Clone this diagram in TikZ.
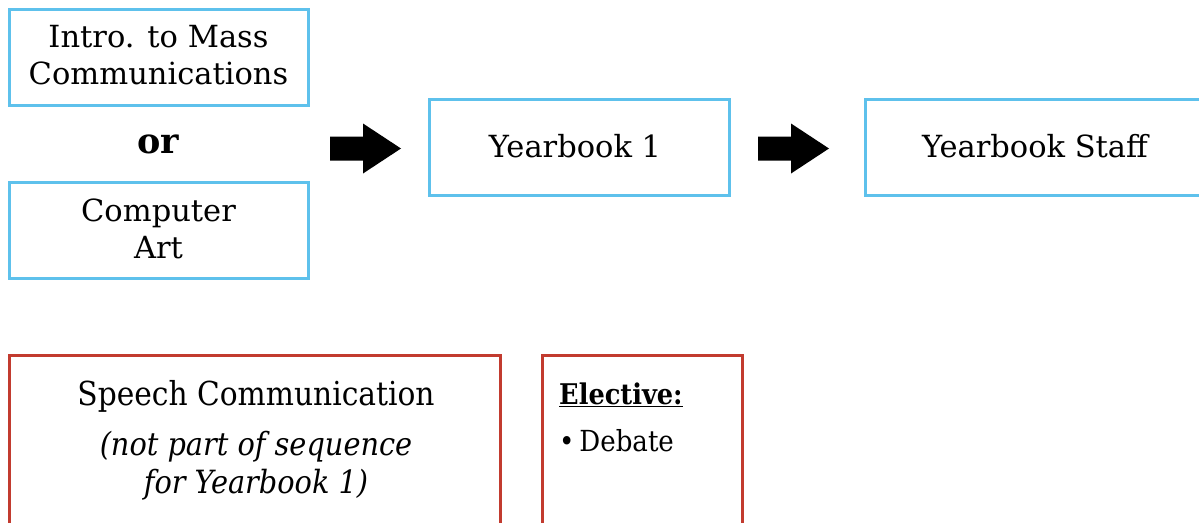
\documentclass[tikz,border=0pt]{standalone}
\usepackage{fontspec}
\setmainfont{DejaVu Serif}
\newfontfamily\condfont{DejaVu Serif Condensed}
\usetikzlibrary{positioning}
\definecolor{seqblue}{HTML}{5EC1EC}
\definecolor{seqred}{HTML}{C23B2F}
\tikzset{
  course/.style={draw=seqblue, line width=3pt, inner sep=0pt, align=center,
    minimum width=299pt, minimum height=96pt, font=\fontsize{30.5}{37.5}\selectfont},
  extra/.style={draw=seqred, line width=3pt, inner sep=0pt, minimum height=185pt},
  note/.style={inner sep=0pt, align=center, font=\condfont\fontsize{29}{38}\selectfont}
}
\newcommand{\blockarrow}[1]{%
  \fill [black] (#1) ++(0,-12) -- ++(33,0) -- ++(0,-13) -- ++(38,25) -- ++(-38,25)
    -- ++(0,-13) -- ++(-33,0) -- cycle;}
\begin{document}
\begin{tikzpicture}[x=1pt,y=-1pt]
	\useasboundingbox (0,0) rectangle (1199,522);
	\clip (0,0) rectangle (1199,522);
	% sequence
	\node [course] (intro) at (158.5,57) {};
	\node [course, draw=none, minimum height=0pt] (introname) at (158.5,55) {Intro. to Mass\\Communications};
	\node [font=\bfseries\fontsize{35}{40}\selectfont] (or) at (158.5,144.5) {or};
	\node [course] (art) at (158.5,230) {};
	\node [course, draw=none, minimum height=0pt] (artname) at (158.5,229) {Computer\\Art};
	\node [course, minimum width=300pt] (yb1) at (579,147.5) {};
	\node [course, draw=none, minimum width=0pt, minimum height=0pt] (yb1name) at (575,146) {Yearbook 1};
	\node [course, minimum width=340pt] (staff) at (1035,147.5) {};
	\node [course, draw=none, minimum width=0pt, minimum height=0pt] (staffname) at (1035,146) {Yearbook Staff};
	\coordinate (arrA) at (330,148.5);
	\coordinate (arrB) at (758,148.5);
	\blockarrow{arrA}
	\blockarrow{arrB}
	% not in sequence
	\node [extra, minimum width=491pt] (speech) at (254.5,447.5) {};
	\node [note, font=\condfont\fontsize{33}{38}\selectfont] (speechname) at (256,396.5) {Speech Communication};
	\node [note, font=\condfont\itshape\fontsize{32}{38}\selectfont] (speechnote) at (256,466)
		{(not part of sequence\\for Yearbook 1)};
	\node [extra, minimum width=200pt] (elective) at (642,447.5) {};
	\node [note, anchor=west, font=\condfont\bfseries\fontsize{28.5}{38}\selectfont] (electname) at (559,395) {\underline{Elective:}};
	\node [note, anchor=west] (debate) at (559,441) {\textbullet\,Debate};
\end{tikzpicture}
\end{document}
